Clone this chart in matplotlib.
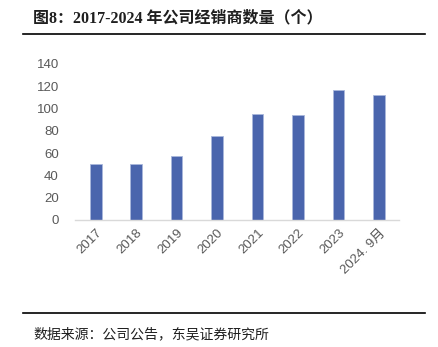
import matplotlib
matplotlib.use('Agg')
import matplotlib.pyplot as plt
import numpy as np

plt.rcParams['font.family'] = ['Liberation Sans', 'Noto Sans CJK SC', 'DejaVu Sans']

# data
years = ['2017', '2018', '2019', '2020', '2021', '2022', '2023', '2024. 9月']
dealers = [50, 50, 57, 75, 95, 94, 117, 112]

title = '图8：2017-2024 年公司经销商数量（个）'
source = '数据来源：公司公告，东吴证券研究所'

fig = plt.figure(figsize=(4.38, 3.47), dpi=100)
ax = fig.add_axes([75.4 / 438, 1 - 220 / 347, (399.3 - 75.4) / 438, (220 - 64) / 347])

x = np.arange(len(years))
ax.bar(x, dealers, width=0.29, color='#4A65AD', edgecolor='#A9B8DC', linewidth=0.6)

ax.set_xlim(-0.5, len(years) - 0.5)
ax.set_ylim(0, 140)
ax.set_yticks(np.arange(0, 141, 20))
ax.set_xticks(x)
ax.set_xticklabels(years, rotation=45, ha='right', rotation_mode='anchor')
ax.tick_params(axis='both', length=0, labelsize=9.5, colors='#595959')
ax.tick_params(axis='y', pad=12)
ax.tick_params(axis='x', pad=5)
for s in ['top', 'right', 'left']:
    ax.spines[s].set_visible(False)
ax.spines['bottom'].set_color('#D9D9D9')
ax.spines['bottom'].set_linewidth(1)

# header / footer
fig.text(33 / 438, 1 - 18 / 347, title, fontsize=11.5, fontweight='bold', color='#1F1F1F',
         va='center', ha='left', family=['Liberation Serif', 'Noto Sans CJK SC'])
fig.add_artist(plt.Line2D([23 / 438, 425 / 438], [1 - 34 / 347, 1 - 34 / 347], color='black', lw=1.2))
fig.add_artist(plt.Line2D([23 / 438, 425 / 438], [1 - 313 / 347, 1 - 313 / 347], color='black', lw=1.2))
fig.text(33 / 438, 1 - 334 / 347, source, fontsize=10, color='#1F1F1F', va='center', ha='left',
         family=['Noto Sans CJK SC'])

fig.savefig('out.png', dpi=100)
